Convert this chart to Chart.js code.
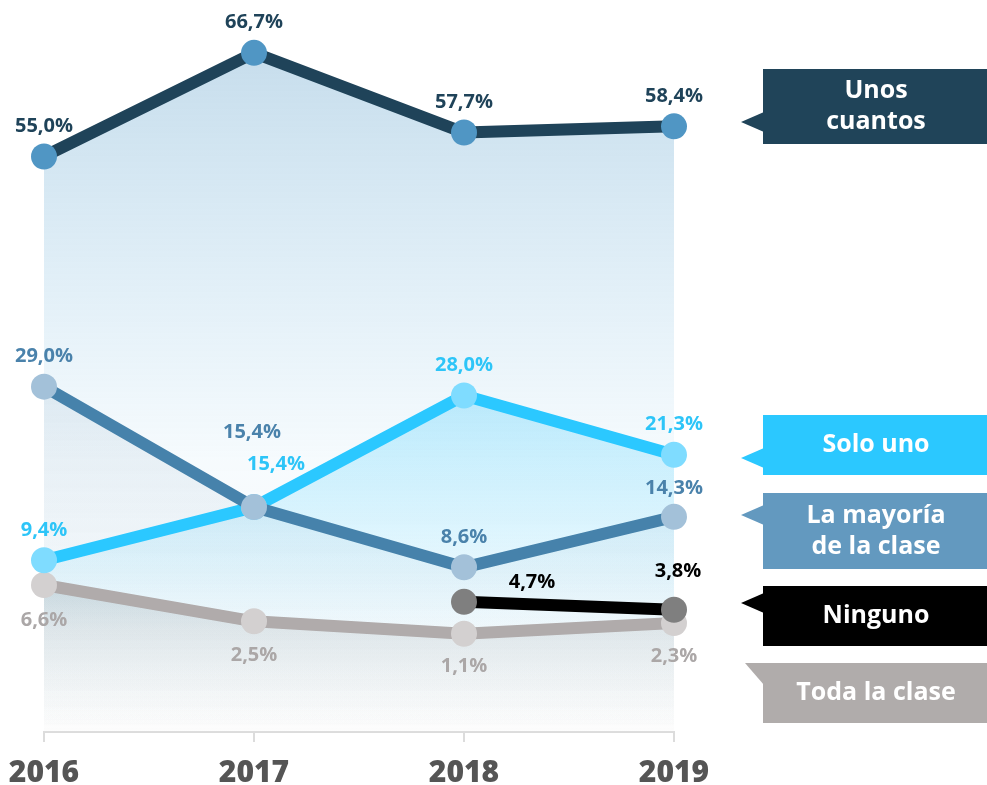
<!DOCTYPE html>
<html>
<head>
<meta charset="utf-8">
<script src="https://cdn.jsdelivr.net/npm/chart.js@4"></script>
<style>
  body { margin: 0; background: #fff; }
  #wrap { width: 987px; height: 785px; }
</style>
</head>
<body>
<div id="wrap"><canvas id="encuesta" width="987" height="785"></canvas></div>
<script>
const years = ['2016', '2017', '2018', '2019'];
const unosCuantos = [55.0, 66.7, 57.7, 58.4];
const laMayoria = [29.0, 15.4, 8.6, 14.3];
const soloUno = [9.4, 15.4, 28.0, 21.3];
const ninguno = [null, null, 4.7, 3.8];
const todaLaClase = [6.6, 2.5, 1.1, 2.3];

const legendLines = [
  ['Unos', 'cuantos'],
  ['Solo uno'],
  ['La mayoría', 'de la clase'],
  ['Ninguno'],
  ['Toda la clase']
];

function fmt(v) {
  return v.toFixed(1).replace('.', ',') + '%';
}

// gradient for fills, built from the chart area
function grad(ctx, from, stops) {
  const area = ctx.chart.chartArea;
  if (!area) return 'transparent';
  const y = ctx.chart.scales.y;
  const g = ctx.chart.ctx.createLinearGradient(0, y.getPixelForValue(from), 0, area.bottom);
  stops.forEach(s => g.addColorStop(s[0], s[1]));
  return g;
}

const labelOffsets = {
  'Unos cuantos': [[0, -30], [0, -31], [0, -30], [0, -30]],
  'La mayoría de la clase': [[0, -30], [-2, -75], [0, -30], [0, -29]],
  'Solo uno': [[0, -30], [22, -43], [0, -30], [0, -31]],
  'Ninguno': [null, null, [68, -20], [4, -39]],
  'Toda la clase': [[0, 35], [0, 34], [0, 33], [0, 33]]
};

const dataLabels = {
  id: 'dataLabels',
  afterDatasetsDraw(chart) {
    const c = chart.ctx;
    c.save();
    c.font = 'bold 20px "Open Sans"';
    c.textAlign = 'center';
    c.textBaseline = 'middle';
    chart.data.datasets.forEach((ds, i) => {
      const meta = chart.getDatasetMeta(i);
      const offs = labelOffsets[ds.label];
      meta.data.forEach((pt, j) => {
        const v = ds.data[j];
        if (v == null || !offs[j]) return;
        c.fillStyle = ds.labelColor;
        c.fillText(fmt(v), pt.x + offs[j][0], pt.y + offs[j][1]);
      });
    });
    c.restore();
  }
};

// legend boxes with little pointers on the right
const boxes = [
  { top: 69, bottom: 144, color: '#204459', tip: [741, 122], base: [112, 132] },
  { top: 415, bottom: 475, color: '#2bc8ff', tip: [741, 458], base: [448, 468] },
  { top: 493, bottom: 569, color: '#6399bf', tip: [741, 515], base: [505, 525] },
  { top: 586, bottom: 646, color: '#000000', tip: [741, 603], base: [593, 613] },
  { top: 663, bottom: 723, color: '#b0acab', tip: [745, 663], base: [663, 685] }
];

const sideLegend = {
  id: 'sideLegend',
  afterDraw(chart) {
    const c = chart.ctx;
    c.save();
    const left = 763, right = 987;
    boxes.forEach((b, i) => {
      c.fillStyle = b.color;
      c.fillRect(left, b.top, right - left, b.bottom - b.top);
      c.beginPath();
      c.moveTo(left + 1, b.base[0]);
      c.lineTo(b.tip[0], b.tip[1]);
      c.lineTo(left + 1, b.base[1]);
      c.closePath();
      c.fill();
      const lines = legendLines[i];
      c.fillStyle = '#fff';
      c.font = 'bold 25px "Open Sans"';
      c.textAlign = 'center';
      c.textBaseline = 'middle';
      const mid = (b.top + b.bottom) / 2;
      const lh = 31;
      lines.forEach((t, k) => {
        c.fillText(t, 876, mid + (k - (lines.length - 1) / 2) * lh);
      });
    });
    c.restore();
  }
};

new Chart(document.getElementById('encuesta'), {
  type: 'line',
  data: {
    labels: years,
    datasets: [
      {
        label: 'Ninguno',
        data: ninguno,
        borderColor: '#000000',
        pointBackgroundColor: '#7f7f7f',
        labelColor: '#000000',
        fill: false,
        order: 1
      },
      {
        label: 'La mayoría de la clase',
        data: laMayoria,
        borderColor: '#4682ab',
        pointBackgroundColor: '#a3c1d9',
        labelColor: '#4a82ab',
        fill: 'start',
        backgroundColor: ctx => grad(ctx, 29, [[0, 'rgba(70,120,160,0.10)'], [1, 'rgba(70,120,160,0)']]),
        order: 2
      },
      {
        label: 'Unos cuantos',
        data: unosCuantos,
        borderColor: '#1f4359',
        pointBackgroundColor: '#5096c4',
        labelColor: '#1f4359',
        fill: 'start',
        backgroundColor: ctx => grad(ctx, 66.7, [[0, 'rgba(80,150,196,0.32)'], [0.6, 'rgba(80,170,220,0.05)'], [1, 'rgba(80,170,220,0)']]),
        order: 3
      },
      {
        label: 'Solo uno',
        data: soloUno,
        borderColor: '#2bc8ff',
        pointBackgroundColor: '#7fdcff',
        labelColor: '#2dc5f8',
        fill: 'start',
        backgroundColor: ctx => grad(ctx, 28, [[0, 'rgba(43,200,255,0.28)'], [0.7, 'rgba(43,200,255,0.03)'], [1, 'rgba(43,200,255,0)']]),
        order: 4
      },
      {
        label: 'Toda la clase',
        data: todaLaClase,
        borderColor: '#b0abab',
        pointBackgroundColor: '#d3d0d0',
        labelColor: '#aba7a7',
        fill: 'start',
        backgroundColor: ctx => grad(ctx, 6.6, [[0, 'rgba(200,200,200,0.55)'], [1, 'rgba(230,230,230,0.1)']]),
        order: 5
      }
    ]
  },
  options: {
    responsive: false,
    animation: false,
    layout: { padding: { left: 44, right: 313, top: 0, bottom: 0 } },
    elements: {
      line: { borderWidth: 12, tension: 0, borderCapStyle: 'butt', borderJoinStyle: 'round' },
      point: { radius: 13, borderWidth: 0, hoverRadius: 13 }
    },
    plugins: {
      legend: { display: false },
      tooltip: { enabled: false },
      filler: { drawTime: 'beforeDatasetsDraw' }
    },
    scales: {
      x: {
        offset: false,
        grid: { drawOnChartArea: false, tickLength: 10, color: '#dcdcdc', lineWidth: 2 },
        border: { color: '#dcdcdc', width: 2 },
        ticks: { color: '#555555', padding: 18, font: { family: '"Open Sans"', weight: 800, size: 30, lineHeight: 0.93 } },
        afterFit(scale) {
          scale.height = 53;
          scale.paddingLeft = 0;
          scale.paddingRight = 0;
        }
      },
      y: {
        display: false,
        min: -10,
        max: 71.2
      }
    }
  },
  plugins: [dataLabels, sideLegend]
});
</script>
</body>
</html>
